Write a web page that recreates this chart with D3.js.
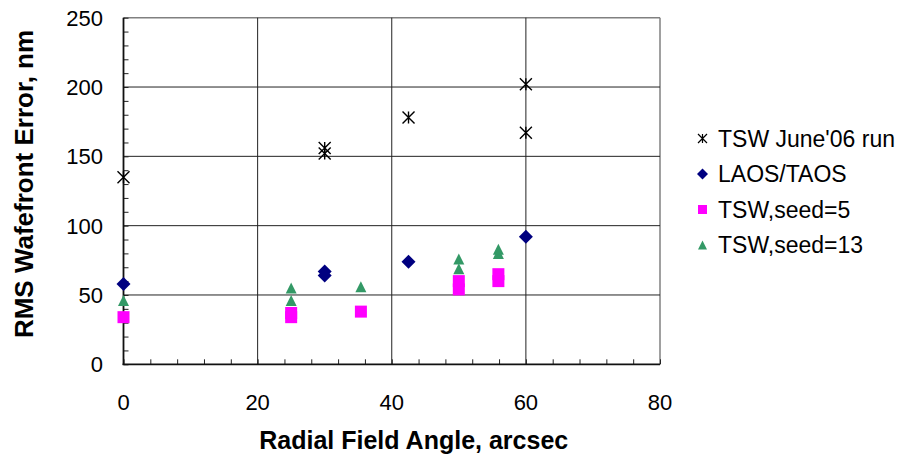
<!DOCTYPE html>
<html>
<head>
<meta charset="utf-8">
<script src="https://cdn.jsdelivr.net/npm/d3@7"></script>
<style>
  html, body { margin: 0; padding: 0; background: #fff; }
  svg { display: block; font-family: "Liberation Sans", Arial, sans-serif; }
</style>
</head>
<body>
<svg id="chart" width="903" height="457"></svg>
<script>
// ---- data ----
const xTicks = [0, 20, 40, 60, 80];
const yTicks = [0, 50, 100, 150, 200, 250];
const seriesNames = ["TSW June'06 run", "LAOS/TAOS", "TSW,seed=5", "TSW,seed=13"];

const junex = [0, 30, 30, 42.5, 60, 60];
const juney = [135, 152, 156, 178, 202, 167];

const laosx = [0, 30, 30, 42.5, 60];
const laosy = [58, 64, 67, 74, 92];

const seed5x = [0, 25, 25, 35.4, 50, 50, 55.9, 55.9];
const seed5y = [34, 34, 37, 38, 54, 60, 60, 65];

const seed13x = [0, 25, 25, 35.4, 50, 50, 55.9, 55.9];
const seed13y = [46, 46, 55, 56, 69, 76, 80, 83];

// ---- layout ----
const svg = d3.select("#chart");
const pL = 123.5, pR = 660, pT = 17.7, pB = 364.3;
const x = d3.scaleLinear().domain([0, 80]).range([pL, pR]);
const y = d3.scaleLinear().domain([0, 250]).range([pB, pT]);

// frame (top/right grey)
svg.append("line").attr("x1", pL).attr("x2", pR).attr("y1", y(250)).attr("y2", y(250))
  .attr("stroke", "#808080").attr("stroke-width", 1.5);
svg.append("line").attr("x1", pR).attr("x2", pR).attr("y1", pT).attr("y2", pB)
  .attr("stroke", "#808080").attr("stroke-width", 1.5);

// gridlines
svg.append("g").selectAll("line").data(yTicks.filter(d => d > 0 && d < 250)).join("line")
  .attr("x1", pL).attr("x2", pR).attr("y1", d => y(d)).attr("y2", d => y(d))
  .attr("stroke", "#222").attr("stroke-width", 1);
svg.append("g").selectAll("line").data(xTicks.filter(d => d > 0 && d < 80)).join("line")
  .attr("x1", d => x(d)).attr("x2", d => x(d)).attr("y1", pT).attr("y2", pB)
  .attr("stroke", "#222").attr("stroke-width", 1);

// axes with inner minor ticks
const yMinor = d3.range(0, 251, 10);
const xMinor = d3.range(0, 81, 4);
const yAxis = d3.axisRight(y).tickValues(yMinor).tickSize(5).tickFormat("");
const gy = svg.append("g").attr("transform", `translate(${pL},0)`).call(yAxis);
gy.select(".domain").remove();
gy.selectAll(".tick line").attr("stroke", "#222");
const xAxis = d3.axisTop(x).tickValues(xMinor).tickSize(5).tickFormat("");
const gx = svg.append("g").attr("transform", `translate(0,${pB})`).call(xAxis);
gx.select(".domain").remove();
gx.selectAll(".tick line").attr("stroke", "#222");

svg.append("line").attr("x1", pL).attr("x2", pL).attr("y1", pT).attr("y2", pB + 0.75)
  .attr("stroke", "#111").attr("stroke-width", 1.8);
svg.append("line").attr("x1", pL - 0.9).attr("x2", pR).attr("y1", pB).attr("y2", pB)
  .attr("stroke", "#111").attr("stroke-width", 1.8);

// tick labels
svg.append("g").selectAll("text").data(yTicks).join("text")
  .attr("x", 103).attr("y", d => y(d)).attr("dy", "0.36em")
  .attr("text-anchor", "end").attr("font-size", 22).attr("fill", "#000").text(d => d);
svg.append("g").selectAll("text").data(xTicks).join("text")
  .attr("x", d => x(d)).attr("y", 402).attr("dy", "0.36em")
  .attr("text-anchor", "middle").attr("font-size", 22).attr("fill", "#000").text(d => d);

// axis titles
svg.append("text").attr("x", x(40) + 22).attr("y", 449).attr("text-anchor", "middle")
  .attr("font-size", 25).attr("font-weight", "bold").text("Radial Field Angle, arcsec");
svg.append("text").attr("transform", `translate(33,${184}) rotate(-90)`).attr("text-anchor", "middle")
  .attr("font-size", 26).attr("font-weight", "bold").text("RMS Wafefront Error, nm");

// markers
const navy = "#000080", magenta = "#FF00FF", green = "#339966";
function asterisk(g, cx, cy, s, w) {
  const h = s / 2;
  const p = `M${cx - h},${cy - h}L${cx + h},${cy + h}M${cx - h},${cy + h}L${cx + h},${cy - h}M${cx},${cy - h}L${cx},${cy + h}`;
  g.append("path").attr("d", p).attr("stroke", "#000").attr("stroke-width", w).attr("fill", "none");
}
function diamond(g, cx, cy, s) {
  const h = s / 2;
  g.append("path").attr("d", `M${cx},${cy - h}L${cx + h},${cy}L${cx},${cy + h}L${cx - h},${cy}Z`).attr("fill", navy);
}
function square(g, cx, cy, s) {
  g.append("rect").attr("x", cx - s / 2).attr("y", cy - s / 2).attr("width", s).attr("height", s).attr("fill", magenta);
}
function triangle(g, cx, cy, s) {
  const h = s / 2;
  g.append("path").attr("d", `M${cx},${cy - h}L${cx + h},${cy + h}L${cx - h},${cy + h}Z`).attr("fill", green);
}

const gm = svg.append("g");
laosx.forEach((d, i) => diamond(gm, x(d), y(laosy[i]), 14));
seed5x.forEach((d, i) => square(gm, x(d), y(seed5y[i]), 12));
seed13x.forEach((d, i) => triangle(gm, x(d), y(seed13y[i]), 11));
junex.forEach((d, i) => asterisk(gm, x(d), y(juney[i]), 12, 1.4));

// legend
const lg = svg.append("g");
const lx = 702.5, ly0 = 138.5, ldy = 35.5;
asterisk(lg, lx, ly0, 9, 1.2);
diamond(lg, lx, ly0 + ldy, 11);
square(lg, lx, ly0 + 2 * ldy, 9);
triangle(lg, lx, ly0 + 3 * ldy, 9);
lg.selectAll("text").data(seriesNames).join("text")
  .attr("x", 718).attr("y", (d, i) => ly0 + i * ldy).attr("dy", "0.36em")
  .attr("font-size", 23).attr("fill", "#000").text(d => d);
</script>
</body>
</html>
